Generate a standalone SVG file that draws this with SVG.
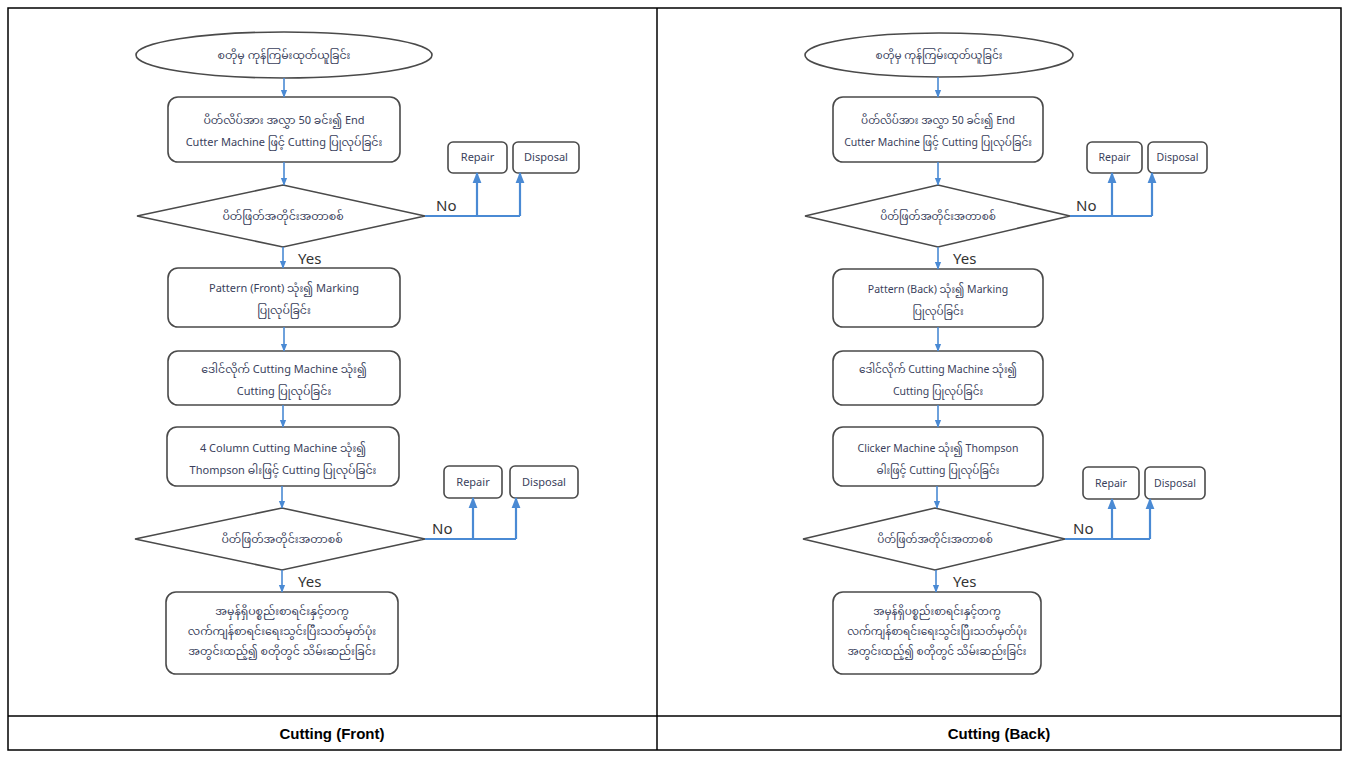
<svg xmlns="http://www.w3.org/2000/svg" width="1349" height="758" viewBox="0 0 1349 758">
  <style>
    .frame { fill: none; stroke: #000; stroke-width: 1.5; }
    .node { fill: #fff; stroke: #4a4a4a; stroke-width: 1.6; }
    .lbl { font-family: "Noto Sans", "Noto Sans Myanmar", "DejaVu Sans", sans-serif; font-size: 11px; fill: #3a3f5c; text-anchor: middle; }
    .lbl-s { font-family: "Noto Sans", "Noto Sans Myanmar", "DejaVu Sans", sans-serif; font-size: 10.5px; fill: #3a3f5c; text-anchor: middle; }
    .tag { font-family: "Noto Sans", "DejaVu Sans", sans-serif; font-size: 15px; fill: #333; }
    .cap { font-family: "Liberation Sans", Arial, sans-serif; font-size: 15px; font-weight: bold; fill: #000; text-anchor: middle; }
    .flow { fill: none; stroke: #4a8ad4; stroke-width: 1.6; marker-end: url(#arrow); }
    .branch { fill: none; stroke: #4a8ad4; stroke-width: 2.2; }
  </style>
  <defs>
    <marker id="arrow" viewBox="0 0 10 10" refX="9" refY="5" markerWidth="5" markerHeight="5" orient="auto-start-reverse">
      <path d="M0,1 L10,5 L0,9 z" fill="#4a8ad4"/>
    </marker>
  </defs>

  <rect width="1349" height="758" fill="#fff"/>

  <!-- table frame -->
  <g id="table">
    <rect class="frame" x="8" y="8" width="1333" height="742"/>
    <line class="frame" x1="657" y1="8" x2="657" y2="750"/>
    <line class="frame" x1="8" y1="716" x2="1341" y2="716"/>
    <text class="cap" x="332" y="739">Cutting (Front)</text>
    <text class="cap" x="999" y="739">Cutting (Back)</text>
  </g>

  <!-- ===== Cutting (Front) ===== -->
  <g id="f-start">
    <ellipse class="node" cx="284" cy="55" rx="148" ry="23"/>
    <text class="lbl" x="284" y="59">စတိုမှ ကုန်ကြမ်းထုတ်ယူခြင်း</text>
  </g>
  <g id="f-step1">
    <rect class="node" x="168" y="97" width="232" height="65" rx="10"/>
    <text class="lbl" x="284" y="124">ပိတ်လိပ်အား အလွှာ 50 ခင်း၍ End</text>
    <text class="lbl" x="284" y="146">Cutter Machine ဖြင့် Cutting ပြုလုပ်ခြင်း</text>
  </g>
  <g id="f-check1">
    <polygon class="node" points="137,216 283,185 425,216 283,247"/>
    <text class="lbl" x="283" y="220">ပိတ်ဖြတ်အတိုင်းအတာစစ်</text>
  </g>
  <g id="f-repair1">
    <rect class="node" x="448" y="142" width="59" height="31" rx="5"/>
    <text class="lbl" x="477.5" y="161">Repair</text>
  </g>
  <g id="f-disposal1">
    <rect class="node" x="513" y="142" width="66" height="31" rx="5"/>
    <text class="lbl" x="546" y="161">Disposal</text>
  </g>
  <g id="f-step2">
    <rect class="node" x="168" y="268" width="232" height="59" rx="10"/>
    <text class="lbl" x="284" y="292">Pattern (Front) သုံး၍ Marking</text>
    <text class="lbl" x="284" y="314">ပြုလုပ်ခြင်း</text>
  </g>
  <g id="f-step3">
    <rect class="node" x="168" y="351" width="232" height="54" rx="10"/>
    <text class="lbl" x="284" y="373">ဒေါင်လိုက် Cutting Machine သုံး၍</text>
    <text class="lbl" x="284" y="395">Cutting ပြုလုပ်ခြင်း</text>
  </g>
  <g id="f-step4">
    <rect class="node" x="167" y="427" width="232" height="59" rx="10"/>
    <text class="lbl" x="283" y="452">4 Column Cutting Machine သုံး၍</text>
    <text class="lbl" x="283" y="474">Thompson ဓါးဖြင့် Cutting ပြုလုပ်ခြင်း</text>
  </g>
  <g id="f-check2">
    <polygon class="node" points="135,539 282,508 425,539 282,570"/>
    <text class="lbl" x="282" y="543">ပိတ်ဖြတ်အတိုင်းအတာစစ်</text>
  </g>
  <g id="f-repair2">
    <rect class="node" x="444" y="466" width="58" height="32" rx="5"/>
    <text class="lbl" x="473" y="486">Repair</text>
  </g>
  <g id="f-disposal2">
    <rect class="node" x="510" y="466" width="68" height="32" rx="5"/>
    <text class="lbl" x="544" y="486">Disposal</text>
  </g>
  <g id="f-store">
    <rect class="node" x="166" y="592" width="232" height="82" rx="10"/>
    <text class="lbl" x="282" y="615">အမှန်ရှိပစ္စည်းစာရင်းနှင့်တကွ</text>
    <text class="lbl" x="282" y="635">လက်ကျန်စာရင်းရေးသွင်းပြီးသတ်မှတ်ပုံး</text>
    <text class="lbl" x="282" y="655">အတွင်းထည့်၍ စတိုတွင် သိမ်းဆည်းခြင်း</text>
  </g>

  <!-- ===== Cutting (Back) ===== -->
  <g id="b-start">
    <ellipse class="node" cx="939" cy="55" rx="134" ry="22"/>
    <text class="lbl-s" x="939" y="59">စတိုမှ ကုန်ကြမ်းထုတ်ယူခြင်း</text>
  </g>
  <g id="b-step1">
    <rect class="node" x="833" y="97" width="210" height="65" rx="10"/>
    <text class="lbl-s" x="938" y="124">ပိတ်လိပ်အား အလွှာ 50 ခင်း၍ End</text>
    <text class="lbl-s" x="938" y="146">Cutter Machine ဖြင့် Cutting ပြုလုပ်ခြင်း</text>
  </g>
  <g id="b-check1">
    <polygon class="node" points="805,216 938,185 1070,216 938,247"/>
    <text class="lbl-s" x="938" y="220">ပိတ်ဖြတ်အတိုင်းအတာစစ်</text>
  </g>
  <g id="b-repair1">
    <rect class="node" x="1087" y="142" width="55" height="31" rx="5"/>
    <text class="lbl-s" x="1114.5" y="161">Repair</text>
  </g>
  <g id="b-disposal1">
    <rect class="node" x="1148" y="142" width="59" height="31" rx="5"/>
    <text class="lbl-s" x="1177.5" y="161">Disposal</text>
  </g>
  <g id="b-step2">
    <rect class="node" x="833" y="269" width="210" height="58" rx="10"/>
    <text class="lbl-s" x="938" y="293">Pattern (Back) သုံး၍ Marking</text>
    <text class="lbl-s" x="938" y="315">ပြုလုပ်ခြင်း</text>
  </g>
  <g id="b-step3">
    <rect class="node" x="833" y="351" width="210" height="54" rx="10"/>
    <text class="lbl-s" x="938" y="373">ဒေါင်လိုက် Cutting Machine သုံး၍</text>
    <text class="lbl-s" x="938" y="395">Cutting ပြုလုပ်ခြင်း</text>
  </g>
  <g id="b-step4">
    <rect class="node" x="833" y="427" width="210" height="59" rx="10"/>
    <text class="lbl-s" x="938" y="452">Clicker Machine သုံး၍ Thompson</text>
    <text class="lbl-s" x="938" y="474">ဓါးဖြင့် Cutting ပြုလုပ်ခြင်း</text>
  </g>
  <g id="b-check2">
    <polygon class="node" points="803,539 935,508 1065,539 935,570"/>
    <text class="lbl-s" x="935" y="543">ပိတ်ဖြတ်အတိုင်းအတာစစ်</text>
  </g>
  <g id="b-repair2">
    <rect class="node" x="1083" y="467" width="56" height="32" rx="5"/>
    <text class="lbl-s" x="1111" y="487">Repair</text>
  </g>
  <g id="b-disposal2">
    <rect class="node" x="1145" y="467" width="60" height="32" rx="5"/>
    <text class="lbl-s" x="1175" y="487">Disposal</text>
  </g>
  <g id="b-store">
    <rect class="node" x="833" y="592" width="208" height="82" rx="10"/>
    <text class="lbl-s" x="937" y="615">အမှန်ရှိပစ္စည်းစာရင်းနှင့်တကွ</text>
    <text class="lbl-s" x="937" y="635">လက်ကျန်စာရင်းရေးသွင်းပြီးသတ်မှတ်ပုံး</text>
    <text class="lbl-s" x="937" y="655">အတွင်းထည့်၍ စတိုတွင် သိမ်းဆည်းခြင်း</text>
  </g>

  <!-- connectors -->
  <g id="connectors">
    <!-- front: main flow -->
    <line class="flow" x1="284" y1="78" x2="284" y2="97"/>
    <line class="flow" x1="284" y1="162" x2="284" y2="185"/>
    <line class="flow" x1="283" y1="247" x2="283" y2="268"/>
    <line class="flow" x1="284" y1="327" x2="284" y2="351"/>
    <line class="flow" x1="283" y1="405" x2="283" y2="427"/>
    <line class="flow" x1="282" y1="486" x2="282" y2="508"/>
    <line class="flow" x1="282" y1="570" x2="282" y2="592"/>
    <!-- front: rejected branches -->
    <polyline class="branch" points="425,216 520,216"/>
    <line class="flow" style="stroke-width:2.2" x1="477" y1="216" x2="477" y2="173"/>
    <line class="flow" style="stroke-width:2.2" x1="520" y1="216" x2="520" y2="173"/>
    <polyline class="branch" points="425,539 516,539"/>
    <line class="flow" style="stroke-width:2.2" x1="473" y1="539" x2="473" y2="498"/>
    <line class="flow" style="stroke-width:2.2" x1="516" y1="539" x2="516" y2="498"/>
    <text class="tag" x="436" y="211">No</text>
    <text class="tag" x="298" y="264">Yes</text>
    <text class="tag" x="432" y="534">No</text>
    <text class="tag" x="298" y="587">Yes</text>

    <!-- back: main flow -->
    <line class="flow" x1="938" y1="77" x2="938" y2="97"/>
    <line class="flow" x1="938" y1="162" x2="938" y2="185"/>
    <line class="flow" x1="938" y1="247" x2="938" y2="269"/>
    <line class="flow" x1="938" y1="327" x2="938" y2="351"/>
    <line class="flow" x1="938" y1="405" x2="938" y2="427"/>
    <line class="flow" x1="937" y1="486" x2="937" y2="508"/>
    <line class="flow" x1="936" y1="570" x2="936" y2="592"/>
    <!-- back: rejected branches -->
    <polyline class="branch" points="1070,216 1152,216"/>
    <line class="flow" style="stroke-width:2.2" x1="1112" y1="216" x2="1112" y2="173"/>
    <line class="flow" style="stroke-width:2.2" x1="1152" y1="216" x2="1152" y2="173"/>
    <polyline class="branch" points="1065,539 1150,539"/>
    <line class="flow" style="stroke-width:2.2" x1="1112" y1="539" x2="1112" y2="499"/>
    <line class="flow" style="stroke-width:2.2" x1="1150" y1="539" x2="1150" y2="499"/>
    <text class="tag" x="1076" y="211">No</text>
    <text class="tag" x="953" y="264">Yes</text>
    <text class="tag" x="1073" y="534">No</text>
    <text class="tag" x="953" y="587">Yes</text>
  </g>
</svg>
